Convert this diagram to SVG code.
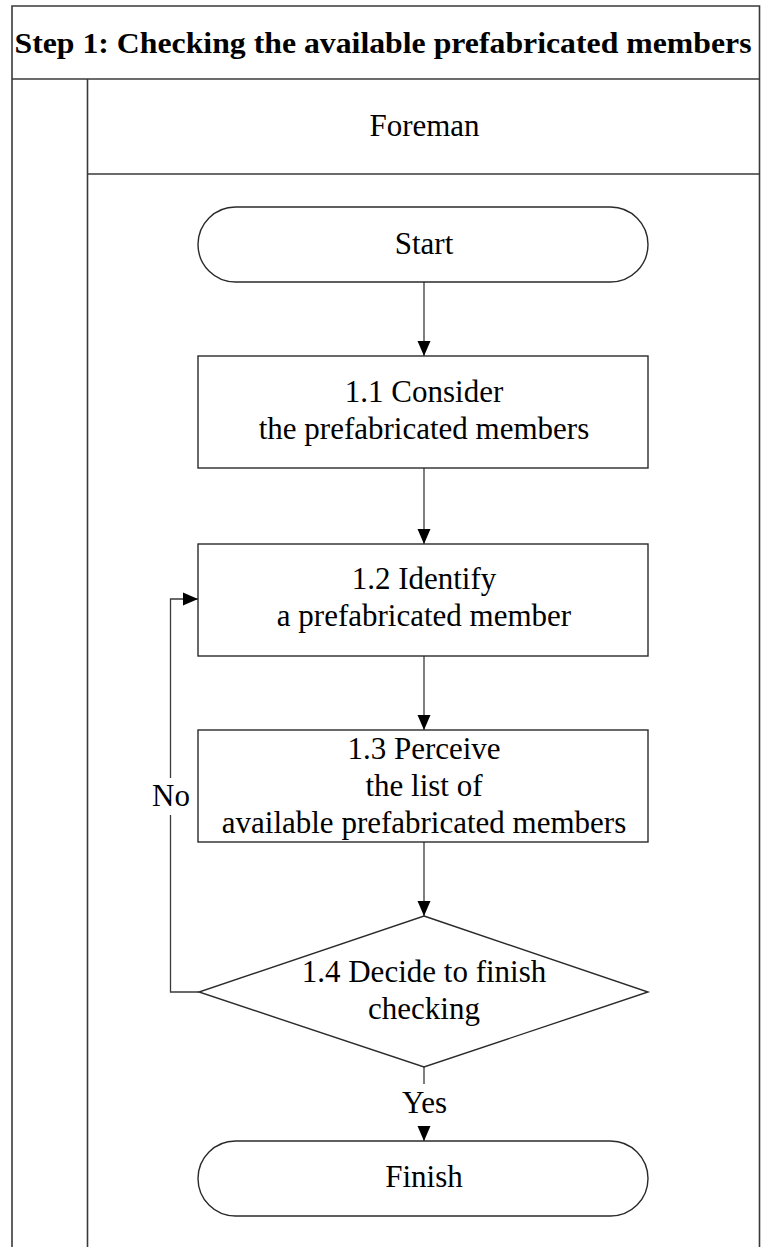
<svg xmlns="http://www.w3.org/2000/svg" width="762" height="1247" viewBox="0 0 762 1247">
  <defs>
    <marker id="arrow" markerUnits="userSpaceOnUse" markerWidth="16" markerHeight="16" refX="15" refY="8" orient="auto">
      <path d="M0,1.5 L15,8 L0,14.5 z" fill="#000"/>
    </marker>
    <style>
      .frame { fill: none; stroke: #3a3a3a; stroke-width: 1.6; }
      .shape { fill: #fff; stroke: #2a2a2a; stroke-width: 1.4; }
      .link { fill: none; stroke: #3a3a3a; stroke-width: 1.3; }
      .txt { font-family: "Liberation Serif", "Times New Roman", Times, "DejaVu Serif", serif; font-size: 31px; font-weight: normal; fill: #000; text-anchor: middle; }
      .title { font-family: "Liberation Serif", "Times New Roman", Times, "DejaVu Serif", serif; font-size: 30px; font-weight: bold; fill: #000; text-anchor: middle; }
    </style>
  </defs>
  <rect width="762" height="1247" fill="#fff"/>

  <!-- swimlane frame -->
  <g id="frame">
    <path class="frame" d="M12,1247 V6 H759.5 V1247"/>
    <line class="frame" x1="12" y1="79" x2="759.5" y2="79" stroke-width="2.2"/>
    <line class="frame" x1="87.5" y1="79" x2="87.5" y2="1247"/>
    <line class="frame" x1="87.5" y1="174" x2="759.5" y2="174"/>
    <text class="title" x="383" y="53" textLength="737" lengthAdjust="spacingAndGlyphs">Step 1: Checking the available prefabricated members</text>
    <text class="txt" x="424.5" y="136">Foreman</text>
  </g>

  <!-- connectors -->
  <g id="connectors">
    <line class="link" x1="424" y1="282" x2="424" y2="356" marker-end="url(#arrow)"/>
    <line class="link" x1="424" y1="468" x2="424" y2="544" marker-end="url(#arrow)"/>
    <line class="link" x1="424" y1="656" x2="424" y2="730" marker-end="url(#arrow)"/>
    <line class="link" x1="424" y1="842" x2="424" y2="916" marker-end="url(#arrow)"/>
    <polyline class="link" points="199,992 170.5,992 170.5,599 198,599" marker-end="url(#arrow)"/>
    <line class="link" x1="424" y1="1067" x2="424" y2="1141" marker-end="url(#arrow)"/>
    <rect x="150" y="778" width="42" height="37" fill="#fff"/>
    <text class="txt" x="171" y="806">No</text>
    <rect x="398" y="1084" width="52" height="42" fill="#fff"/>
    <text class="txt" x="424.5" y="1113">Yes</text>
  </g>

  <g id="start">
    <rect class="shape" x="198" y="207" width="450" height="75" rx="37.5" ry="37.5"/>
    <text class="txt" x="424" y="254">Start</text>
  </g>

  <g id="step-1-1">
    <rect class="shape" x="198" y="356" width="450" height="112"/>
    <text class="txt" x="424" y="402">1.1 Consider</text>
    <text class="txt" x="424" y="439">the prefabricated members</text>
  </g>

  <g id="step-1-2">
    <rect class="shape" x="198" y="544" width="450" height="112"/>
    <text class="txt" x="424" y="589">1.2 Identify</text>
    <text class="txt" x="424" y="626">a prefabricated member</text>
  </g>

  <g id="step-1-3">
    <rect class="shape" x="198" y="730" width="450" height="112"/>
    <text class="txt" x="424" y="759">1.3 Perceive</text>
    <text class="txt" x="424" y="796">the list of</text>
    <text class="txt" x="424" y="833">available prefabricated members</text>
  </g>

  <g id="step-1-4">
    <polygon class="shape" points="424,916 648,992 424,1067 199,992"/>
    <text class="txt" x="424" y="982">1.4 Decide to finish</text>
    <text class="txt" x="424" y="1019">checking</text>
  </g>

  <g id="finish">
    <rect class="shape" x="198" y="1141" width="450" height="75" rx="37.5" ry="37.5"/>
    <text class="txt" x="424" y="1187">Finish</text>
  </g>
</svg>
